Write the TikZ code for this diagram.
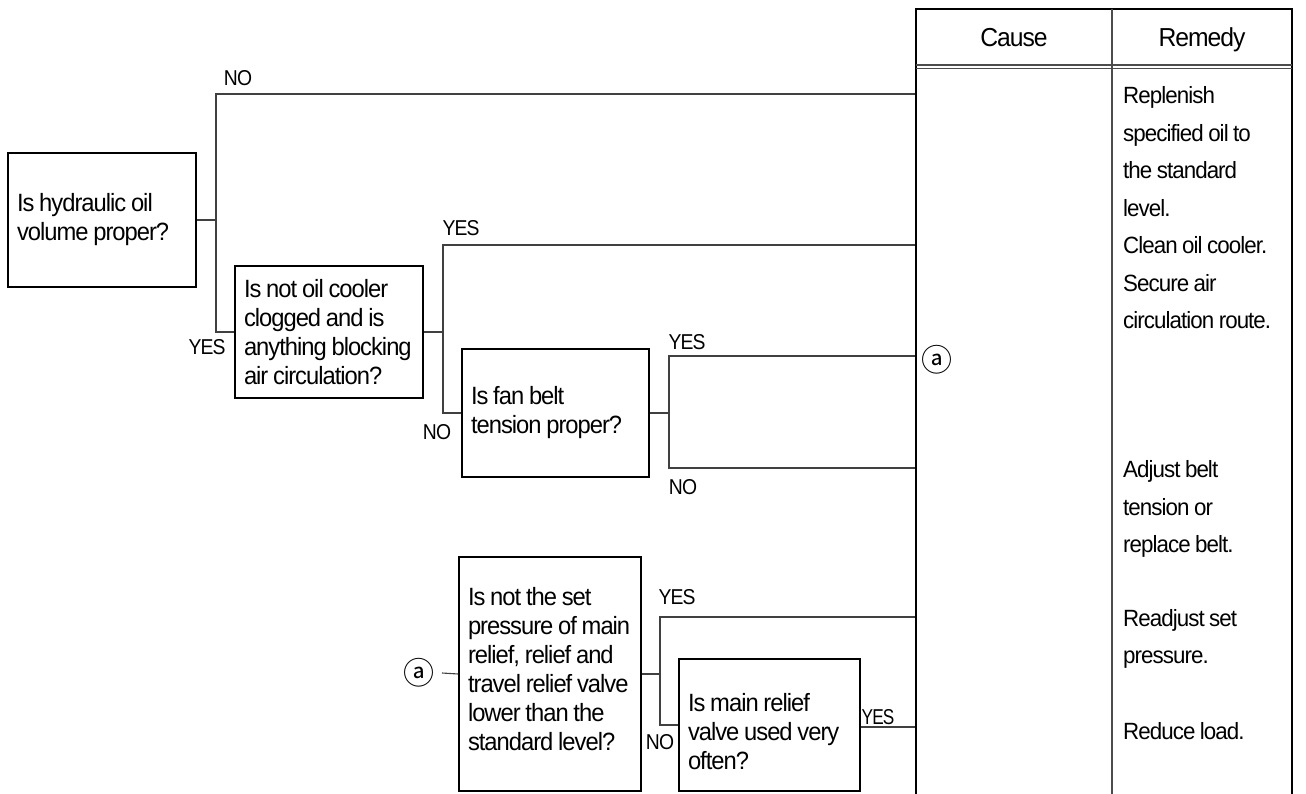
\documentclass[tikz,border=0pt]{standalone}
\usepackage{fontspec}
\setmainfont{Liberation Sans}[FakeStretch=0.95,LetterSpace=-4,WordSpace=0.85]
\newfontfamily\lblfont{Liberation Sans}[FakeStretch=0.9,LetterSpace=-4]
\newfontfamily\narrowfont{Liberation Sans}[FakeStretch=0.8,LetterSpace=-4]
\newfontfamily\circfont{Noto Sans CJK JP}
\newcommand\qfix{\spaceskip=0pt\relax\xspaceskip=0pt\relax\hyphenpenalty=10000\relax\exhyphenpenalty=10000\relax}
\begin{document}
\begin{tikzpicture}[x=1pt,y=-1pt,
  qbox/.style={draw=black, line width=1.6pt, rectangle, inner xsep=9pt, inner ysep=0pt, align=left, font=\fontsize{25}{29}\selectfont},
  conn/.style={draw=black!75, line width=1.1pt},
  lbl/.style={font=\lblfont\fontsize{21.5}{24}\selectfont, inner sep=0pt},
  nlbl/.style={font=\narrowfont\fontsize{21.5}{24}\selectfont, inner sep=0pt},
  rem/.style={font=\fontsize{23.5}{37.5}\selectfont, align=left, anchor=west, inner sep=0pt},
  hdr/.style={font=\fontsize{26}{30}\selectfont, inner sep=0pt, anchor=base},
  circ/.style={font=\circfont\fontsize{31}{32}\selectfont, inner sep=0pt},
  tabouter/.style={draw=black, line width=1.8pt},
  tabinner/.style={draw=black!70, line width=1.1pt}]
\useasboundingbox (0,0) rectangle (1306,794);

% question boxes
\node[qbox, minimum width=188pt, minimum height=134pt, text width=170pt] (q1) at (102,220) {\qfix Is hydraulic oil\\volume proper?};
\node[qbox, minimum width=188pt, minimum height=132pt, text width=170pt] (q2) at (329,332) {\qfix Is not oil cooler\\clogged and is\\anything blocking\\air circulation?};
\node[qbox, minimum width=187pt, minimum height=128pt, text width=169pt] (q3) at (555.5,413) {\qfix Is fan belt\\tension proper?};
\node[qbox, minimum width=182pt, minimum height=234pt, text width=164pt] (q4) at (550,674) {\qfix Is not the set\\pressure of main\\relief, relief and\\travel relief valve\\lower than the\\standard level?\rule[-10pt]{0pt}{10pt}};
\node[qbox, minimum width=181pt, minimum height=132pt, text width=163pt] (q5) at (769.5,725) {\qfix\rule{0pt}{31pt}Is main relief\\valve used very\\often?};

% junctions and table entry points
\coordinate (j1) at (216,220);
\coordinate (t1) at (916,94);
\coordinate (j2) at (443,332);
\coordinate (t2) at (916,245);
\coordinate (j3) at (669,413);
\coordinate (t3) at (916,356);
\coordinate (t4) at (916,468);
\coordinate (j4) at (660,674);
\coordinate (t5) at (916,617);
\coordinate (t6) at (916,727);

% circled a markers
\node[circ] (a1) at (937,360) {ⓐ};
\node[circ] (a2) at (419,673) {ⓐ};

% connectors
\draw[conn] (442,673) -- (q4.west);
\draw[conn] (q1.east) -- (j1) |- (t1);
\draw[conn] (j1) |- (q2.west);
\draw[conn] (q2.east) -- (j2) |- (t2);
\draw[conn] (j2) |- (q3.west);
\draw[conn] (q3.east) -- (j3) |- (t3);
\draw[conn] (j3) |- (t4);
\draw[conn] (q4.east) -- (j4) |- (t5);
\draw[conn] (j4) |- (q5.west);
\draw[conn] (q5.east |- t6) -- (t6);

% branch labels
\node[lbl] (l1) at (238,78) {NO};
\node[lbl] (l2) at (207,347) {YES};
\node[lbl] (l3) at (461,228) {YES};
\node[lbl] (l4) at (437,432) {NO};
\node[lbl] (l5) at (687,342) {YES};
\node[lbl] (l6) at (683,487) {NO};
\node[lbl] (l7) at (677,597) {YES};
\node[lbl] (l8) at (660,742) {NO};
\node[nlbl] (l9) at (878,717) {YES};

% table
\draw[tabouter] (916,794) -- (916,9) -- (1292,9) -- (1292,794);
\draw[tabinner] (1112,9) -- (1112,794);
\draw[tabinner] (916,65) -- (1292,65);
\draw[tabinner] (916,68.5) -- (1292,68.5);
\node[hdr] (hc) at (1014,47) {Cause};
\node[hdr] (hr) at (1202,47) {Remedy};

% remedies
\node[rem] (r1) at (1123,208) {Replenish\\specified oil to\\the standard\\level.\\Clean oil cooler.\\Secure air\\circulation route.};
\node[rem] (r2) at (1123,509) {Adjust belt\\tension or\\replace belt.};
\node[rem] (r3) at (1123,639) {Readjust set\\pressure.};
\node[rem] (r4) at (1123,731) {Reduce load.};
\end{tikzpicture}
\end{document}
